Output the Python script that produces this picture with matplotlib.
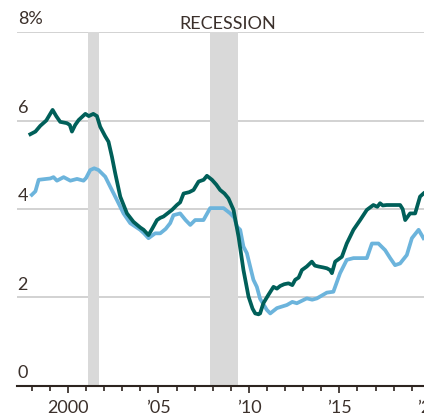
import matplotlib.pyplot as plt
from matplotlib.ticker import MultipleLocator

# values (year, percent)
dark_years = [1997.92, 1998.2, 1998.47, 1998.8, 1999.15, 1999.35, 1999.57, 1999.94, 2000.1,
              2000.22, 2000.4, 2000.59, 2000.96, 2001.15, 2001.4, 2001.6, 2001.78, 2002.05,
              2002.24, 2002.43, 2002.61, 2002.89, 2003.26, 2003.62, 2004.0, 2004.18, 2004.45,
              2004.65, 2004.92, 2005.1, 2005.28, 2005.5, 2005.75, 2006.02, 2006.2, 2006.39,
              2006.7, 2006.94, 2007.22, 2007.5, 2007.68, 2007.96, 2008.2, 2008.41, 2008.65,
              2008.87, 2009.15, 2009.43, 2009.7, 2009.98, 2010.2, 2010.35, 2010.53, 2010.62,
              2010.8, 2011.08, 2011.36, 2011.55, 2011.73, 2011.95, 2012.19, 2012.4, 2012.56,
              2012.75, 2012.93, 2013.2, 2013.48, 2013.65, 2013.85, 2014.1, 2014.31, 2014.49,
              2014.59, 2014.77, 2015.14, 2015.41, 2015.78, 2016.15, 2016.52, 2016.88, 2017.1,
              2017.25, 2017.4, 2017.62, 2018.0, 2018.36, 2018.5, 2018.64, 2018.91, 2019.19,
              2019.46, 2019.65]
dark_values = [5.69, 5.75, 5.88, 6.0, 6.24, 6.1, 5.97, 5.94, 5.9,
               5.75, 5.9, 6.01, 6.15, 6.1, 6.15, 6.1, 5.86, 5.65,
               5.52, 5.18, 4.81, 4.28, 3.9, 3.71, 3.58, 3.53, 3.41,
               3.55, 3.75, 3.8, 3.83, 3.9, 3.98, 4.09, 4.15, 4.35,
               4.38, 4.43, 4.62, 4.66, 4.75, 4.66, 4.55, 4.43, 4.35,
               4.24, 3.98, 3.37, 2.62, 2.02, 1.75, 1.64, 1.62, 1.64,
               1.87, 2.06, 2.24, 2.2, 2.26, 2.3, 2.32, 2.28, 2.4,
               2.45, 2.62, 2.7, 2.81, 2.72, 2.7, 2.68, 2.66, 2.62,
               2.55, 2.81, 2.92, 3.22, 3.53, 3.75, 3.98, 4.09, 4.05,
               4.13, 4.08, 4.09, 4.09, 4.09, 4.0, 3.75, 3.9, 3.9,
               4.28, 4.35]

light_years = [1998.0, 1998.2, 1998.38, 1999.02, 1999.2, 1999.39, 1999.76, 2000.13, 2000.5,
               2000.86, 2001.0, 2001.23, 2001.45, 2001.69, 2002.06, 2002.34, 2002.71, 2003.07,
               2003.44, 2003.99, 2004.2, 2004.45, 2004.82, 2005.1, 2005.4, 2005.65, 2005.83,
               2006.2, 2006.5, 2006.76, 2007.03, 2007.49, 2007.86, 2008.23, 2008.6, 2008.97,
               2009.2, 2009.34, 2009.52, 2009.7, 2009.89, 2010.07, 2010.25, 2010.44, 2010.62,
               2010.8, 2010.99, 2011.18, 2011.55, 2012.1, 2012.4, 2012.65, 2013.2, 2013.5,
               2013.76, 2014.31, 2014.67, 2015.04, 2015.41, 2015.78, 2016.52, 2016.8, 2017.16,
               2017.53, 2017.81, 2018.08, 2018.36, 2018.73, 2019.01, 2019.38, 2019.65]
light_values = [4.32, 4.4, 4.66, 4.69, 4.72, 4.64, 4.72, 4.64, 4.68,
                4.64, 4.7, 4.88, 4.92, 4.88, 4.73, 4.5, 4.2, 3.9,
                3.68, 3.53, 3.45, 3.34, 3.45, 3.45, 3.55, 3.68, 3.86,
                3.9, 3.75, 3.64, 3.75, 3.75, 4.02, 4.02, 4.02, 3.9,
                3.8, 3.6, 3.53, 3.15, 3.0, 2.7, 2.4, 2.24, 1.97,
                1.85, 1.72, 1.64, 1.76, 1.83, 1.9, 1.87, 1.98, 1.95,
                1.98, 2.11, 2.13, 2.55, 2.85, 2.89, 2.89, 3.22, 3.22,
                3.07, 2.89, 2.73, 2.77, 2.96, 3.34, 3.53, 3.34]

recessions = [(2001.08, 2001.69), (2007.83, 2009.4)]
y_ticks = [0, 2, 4, 6, 8]
y_labels = ["0", "2", "4", "6", "8%"]
x_ticks = [2000, 2005, 2010, 2015, 2020]
x_labels = ["2000", "\u201905", "\u201910", "\u201915", "\u201920"]

TEXT = "#3b302b"
FONT = "Lato"
SIZE = 13

fig = plt.figure(figsize=(4.24, 4.19), dpi=100)
ax = fig.add_axes([0.040, 0.0788, 0.995, 0.8448])
ax.set_xlim(1997.18, 2020.5)
ax.set_ylim(0, 8)

for start, end in recessions:
    ax.axvspan(start, end, color="#d9d9d9", lw=0, zorder=1)

for y in y_ticks[1:]:
    ax.axhline(y, color="#cfcfcf", lw=1.3, zorder=0.5)

ax.plot(light_years, light_values, color="#6cb4dc", lw=2.7, zorder=3)
ax.plot(dark_years, dark_values, color="#005f59", lw=2.7, zorder=4)

for y, lab in zip(y_ticks, y_labels):
    ax.annotate(lab, (1997.18, y), xytext=(0.5, 3.5), textcoords="offset points",
                ha="left", va="bottom", fontsize=SIZE, color=TEXT, family=FONT)

ax.text(2008.85, 8, "RECESSION", ha="center", va="bottom",
        fontsize=SIZE, color=TEXT, family=FONT)

for side in ["left", "right", "top"]:
    ax.spines[side].set_visible(False)
ax.spines["bottom"].set_color("#2d241f")
ax.spines["bottom"].set_linewidth(1.5)
ax.spines["bottom"].set_zorder(5)

ax.set_yticks([])
ax.set_xticks(x_ticks)
ax.set_xticklabels(x_labels, family=FONT, fontsize=SIZE, color=TEXT)
ax.xaxis.set_minor_locator(MultipleLocator(1))
ax.tick_params(axis="x", which="major", length=5, width=1.2, color="#2d241f", pad=5)
ax.tick_params(axis="x", which="minor", length=3.5, width=1.2, color="#2d241f")

fig.savefig("out.png", dpi=100)
